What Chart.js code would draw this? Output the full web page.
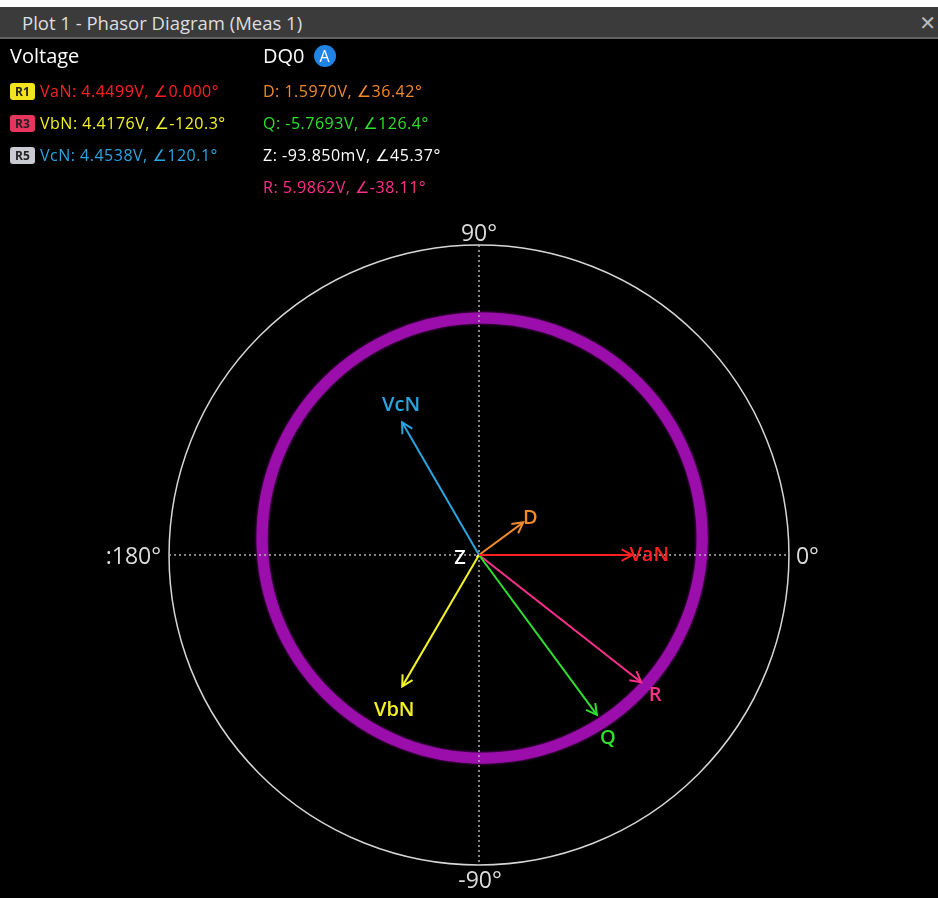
<!DOCTYPE html>
<html lang="en">
<head>
<meta charset="UTF-8">
<title>Plot 1 - Phasor Diagram (Meas 1)</title>
<script src="https://cdn.jsdelivr.net/npm/chart.js"></script>
<style>
  html, body { margin: 0; padding: 0; background: #000; width: 938px; height: 898px; overflow: hidden;
               font-family: "Open Sans", "DejaVu Sans", sans-serif; }
  #strip { position: absolute; left: 0; top: 0; width: 938px; height: 7px; background: #fff; }
  #bar { position: absolute; left: 0; top: 7px; width: 938px; height: 30px; background: #3b3b3b;
         border-bottom: 2px solid #626262; color: #dedede; font-size: 18.5px; line-height: 32px; }
  #bar .title { position: absolute; left: 22px; top: 0; }
  #bar .close { position: absolute; right: 2px; top: 0; font-size: 20px; color: #bbb; }
  #chart { position: absolute; left: 0; top: 0; }
  .hdr { position: absolute; color: #fff; font-size: 20px; line-height: 24px; }
  .row { position: absolute; font-size: 16px; line-height: 20px; white-space: nowrap; letter-spacing: 0.5px; }
  .ref { display: inline-block; width: 25px; height: 17px; line-height: 17px; border-radius: 3px; margin-right: 5px;
         font-size: 12px; font-weight: bold; text-align: center; color: #222; vertical-align: 1px; letter-spacing: 0; }
  .badge { display: inline-block; width: 22px; height: 22px; line-height: 22px; border-radius: 50%; background: #1f84e6;
           color: #fff; font-size: 16px; text-align: center; margin-left: 9px; vertical-align: 1px; }
</style>
</head>
<body>
<canvas id="chart" width="938" height="898"></canvas>
<div id="strip"></div>
<div id="bar"><span class="title">Plot 1 - Phasor Diagram (Meas 1)</span><span class="close">✕</span></div>
<div class="hdr" style="left:10px; top:44px;">Voltage</div>
<div class="hdr" style="left:263px; top:44px;">DQ0<span class="badge">A</span></div>
<div id="readouts"></div>

<script>
// line voltages (reference channels R1, R3, R5)
const voltageNames = ['VaN', 'VbN', 'VcN'];
const voltageRefs = ['R1', 'R3', 'R5'];
const voltageMag = [4.4499, 4.4176, 4.4538];      // V
const voltageAng = [0.000, -120.3, 120.1];         // deg

// DQ0 transform results
const dq0Names = ['D', 'Q', 'Z', 'R'];
const dq0Mag = [1.5970, -5.7693, -0.09385, 5.9862]; // V
const dq0Ang = [36.42, 126.4, 45.37, -38.11];       // deg

// rotating R trace
const traceCenterX = 0.09;
const traceCenterY = 0.49;
const traceRadius = 6.39;

// polar grid
const gridRadius = 9;
const gridLabels = ['0°', '90°', ':180°', '-90°'];

const colors = {
  VaN: '#ff2121', VbN: '#f4f224', VcN: '#2aa5e0',
  D: '#f08a2a', Q: '#2ee02c', Z: '#ffffff', R: '#ff2f8c'
};
const refColors = { R1: '#f3e41d', R3: '#e83560', R5: '#c9cad2' };

function fmtMag(v) {
  return Math.abs(v) < 1 ? (v * 1000).toPrecision(5) + 'mV' : v.toPrecision(5) + 'V';
}
function fmtAng(a) {
  return a.toPrecision(4) + '°';
}

// readout text
const readouts = document.getElementById('readouts');
voltageNames.forEach((n, i) => {
  const d = document.createElement('div');
  d.className = 'row';
  d.style.left = '10px';
  d.style.top = (81 + 32 * i) + 'px';
  d.innerHTML = '<span class="ref" style="background:' + refColors[voltageRefs[i]] + '">' + voltageRefs[i] + '</span>' +
    '<span style="color:' + colors[n] + '">' + n + ': ' + fmtMag(voltageMag[i]) + ', ∠' + fmtAng(voltageAng[i]) + '</span>';
  readouts.appendChild(d);
});
dq0Names.forEach((n, i) => {
  const d = document.createElement('div');
  d.className = 'row';
  d.style.left = '263px';
  d.style.top = (81 + 32 * i) + 'px';
  d.style.color = colors[n];
  d.textContent = n + ': ' + fmtMag(dq0Mag[i]) + ', ∠' + fmtAng(dq0Ang[i]);
  readouts.appendChild(d);
});

// phasor tips in volts
const names = voltageNames.concat(dq0Names);
const mags = voltageMag.concat(dq0Mag);
const angs = voltageAng.concat(dq0Ang);
const datasets = names.map((n, i) => {
  const r = angs[i] * Math.PI / 180;
  return {
    label: n,
    data: [{ x: 0, y: 0 }, { x: mags[i] * Math.cos(r), y: mags[i] * Math.sin(r) }],
    showLine: true,
    borderColor: colors[n],
    borderWidth: 2,
    pointRadius: 0
  };
});

// label nudges from the arrow tip, in px
const labelOffset = {
  VaN: [17, 0], VbN: [-8, 24], VcN: [-1, -17], D: [7, -4], Q: [11, 23], R: [14, 13]
};

const phasorPlot = {
  id: 'phasorPlot',
  beforeDatasetsDraw(chart) {
    const ctx = chart.ctx;
    const xs = chart.scales.x, ys = chart.scales.y;
    const cx = xs.getPixelForValue(0), cy = ys.getPixelForValue(0);
    const R = xs.getPixelForValue(gridRadius) - cx;

    ctx.save();
    // outer ring
    ctx.strokeStyle = '#d6d6d6';
    ctx.lineWidth = 1.5;
    ctx.beginPath();
    ctx.arc(cx, cy, R, 0, Math.PI * 2);
    ctx.stroke();

    // R trace
    const tx = xs.getPixelForValue(traceCenterX), ty = ys.getPixelForValue(traceCenterY);
    const tr = xs.getPixelForValue(traceRadius) - xs.getPixelForValue(0);
    ctx.strokeStyle = '#9c0eac';
    ctx.shadowColor = '#9c0eac';
    ctx.shadowBlur = 3;
    ctx.lineWidth = 11;
    ctx.beginPath();
    ctx.arc(tx, ty, tr, 0, Math.PI * 2);
    ctx.stroke();
    ctx.shadowBlur = 0;

    // dotted crosshair
    ctx.strokeStyle = '#b4b4b4';
    ctx.lineWidth = 1.5;
    ctx.setLineDash([2, 3]);
    ctx.beginPath();
    ctx.moveTo(cx - R, cy); ctx.lineTo(cx + R, cy);
    ctx.moveTo(cx, cy - R); ctx.lineTo(cx, cy + R);
    ctx.stroke();
    ctx.setLineDash([]);

    // angle labels
    ctx.fillStyle = '#dcdcdc';
    ctx.font = '23px "Open Sans", sans-serif';
    ctx.textBaseline = 'middle';
    ctx.textAlign = 'left';
    ctx.fillText(gridLabels[0], cx + R + 7, cy + 2);
    ctx.textAlign = 'center';
    ctx.fillText(gridLabels[1], cx, cy - R - 11);
    ctx.textAlign = 'right';
    ctx.fillText(gridLabels[2], cx - R - 8, cy + 2);
    ctx.textAlign = 'center';
    ctx.fillText(gridLabels[3], cx + 1, cy + R + 16);
    ctx.restore();
  },
  afterDatasetsDraw(chart) {
    const ctx = chart.ctx;
    ctx.save();
    ctx.font = '600 20px "Open Sans", sans-serif';
    ctx.textAlign = 'center';
    ctx.textBaseline = 'middle';
    chart.data.datasets.forEach((ds, i) => {
      const pts = chart.getDatasetMeta(i).data;
      const x0 = pts[0].x, y0 = pts[0].y, x1 = pts[1].x, y1 = pts[1].y;
      const len = Math.hypot(x1 - x0, y1 - y0);
      const col = ds.borderColor;
      if (len > 15) {
        const a = Math.atan2(y1 - y0, x1 - x0);
        ctx.strokeStyle = col;
        ctx.lineWidth = 2;
        ctx.beginPath();
        ctx.moveTo(x1 - 12 * Math.cos(a - 0.5), y1 - 12 * Math.sin(a - 0.5));
        ctx.lineTo(x1, y1);
        ctx.lineTo(x1 - 12 * Math.cos(a + 0.5), y1 - 12 * Math.sin(a + 0.5));
        ctx.stroke();
      }
      ctx.fillStyle = col;
      if (ds.label === 'Z') {
        ctx.fillText('Z', x0 - 19, y0 + 3);
      } else {
        const o = labelOffset[ds.label];
        ctx.fillText(ds.label, x1 + o[0], y1 + o[1]);
      }
    });
    ctx.restore();
  }
};

new Chart(document.getElementById('chart'), {
  type: 'scatter',
  data: { datasets: datasets },
  options: {
    responsive: false,
    devicePixelRatio: 1,
    animation: false,
    layout: { padding: { left: 134.6, right: 114.6, top: 210.6, bottom: 15.8 } },
    scales: {
      x: { type: 'linear', min: -10, max: 10, display: false },
      y: { type: 'linear', min: -9.5, max: 10, display: false }
    },
    plugins: { legend: { display: false }, tooltip: { enabled: false } }
  },
  plugins: [phasorPlot]
});
</script>
</body>
</html>
